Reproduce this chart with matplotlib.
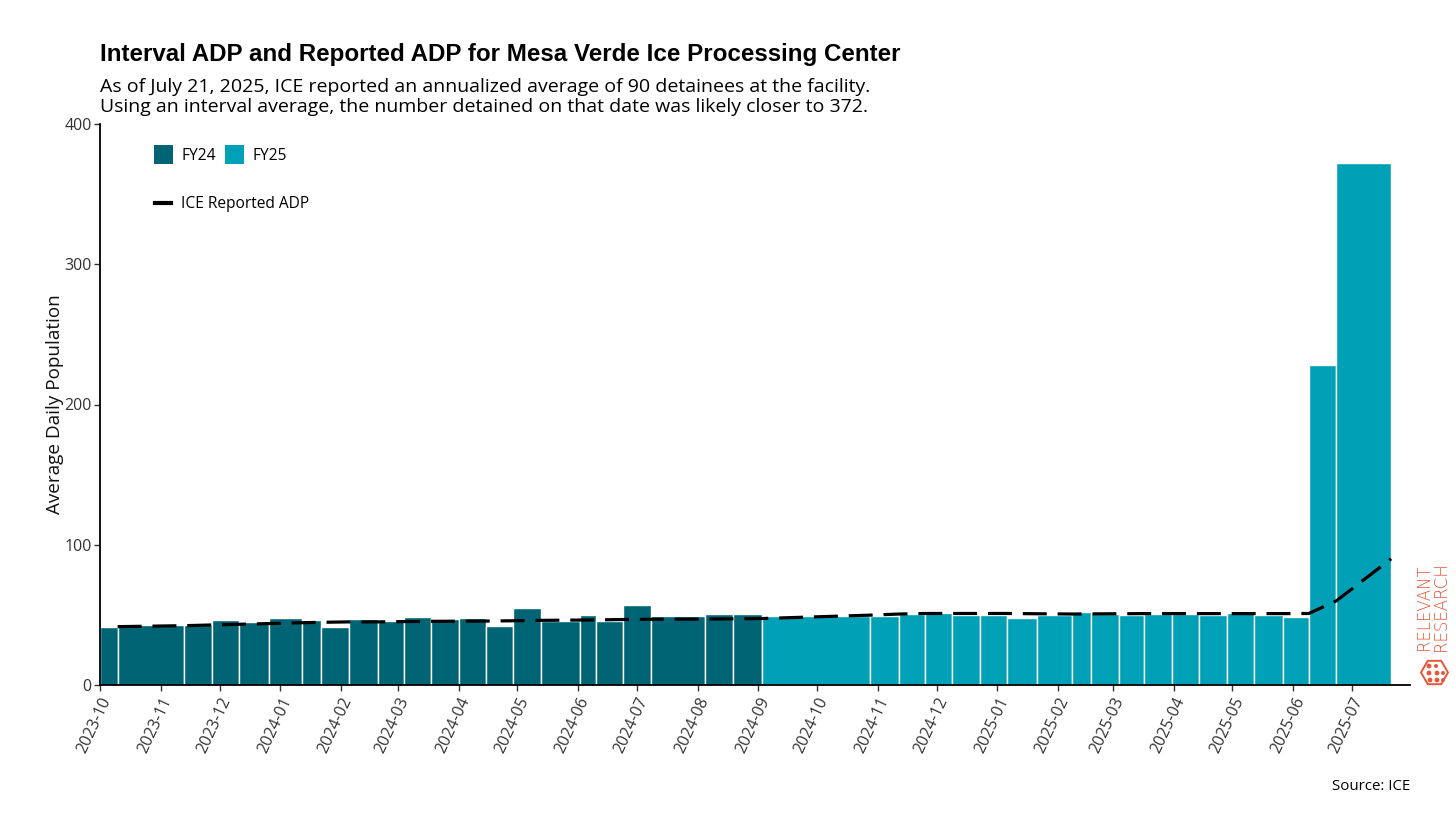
import matplotlib
matplotlib.use("Agg")
import matplotlib.pyplot as plt
import matplotlib.dates as mdates
from matplotlib.patches import Patch, RegularPolygon, Circle
from matplotlib.lines import Line2D
import matplotlib.transforms as mtransforms
import datetime as dt
import math

# ---------------- data ----------------
period_start = "2023-10-01"
report_dates = [
    "2023-10-10", "2023-11-13", "2023-11-27", "2023-12-11", "2023-12-26",
    "2024-01-12", "2024-01-22", "2024-02-05", "2024-02-20", "2024-03-04",
    "2024-03-18", "2024-04-01", "2024-04-15", "2024-04-29", "2024-05-13",
    "2024-06-02", "2024-06-10", "2024-06-24", "2024-07-08", "2024-08-05",
    "2024-08-19", "2024-09-03",
    "2024-10-28", "2024-11-12", "2024-11-25", "2024-12-09", "2024-12-23",
    "2025-01-06", "2025-01-21", "2025-02-08", "2025-02-18", "2025-03-04",
    "2025-03-17", "2025-03-31", "2025-04-14", "2025-04-28", "2025-05-12",
    "2025-05-27", "2025-06-09", "2025-06-23", "2025-07-21",
]
interval_adp = [
    41.1, 42.5, 43.0, 46.6, 44.9,
    47.8, 46.3, 41.6, 47.1, 45.6,
    48.5, 46.8, 47.5, 42.1, 55.1,
    45.4, 50.1, 45.9, 56.8, 49.2,
    50.9, 50.4,
    49.2, 49.4, 50.6, 51.1, 49.9,
    50.2, 47.8, 49.9, 52.0, 50.6,
    49.9, 50.9, 50.6, 50.1, 51.1,
    50.1, 48.5, 228.2, 372.2,
]
reported_adp = [
    41.6, 42.3, 42.8, 43.3, 43.8,
    44.4, 44.7, 45.0, 45.0, 45.2,
    45.4, 45.5, 45.6, 45.8, 46.1,
    46.3, 46.4, 46.7, 46.9, 47.0,
    47.2, 47.4,
    49.8, 50.6, 51.0, 51.0, 51.0,
    51.0, 50.8, 50.6, 50.7, 50.8,
    50.9, 50.9, 50.9, 50.9, 50.9,
    50.9, 51.0, 60.0, 90.0,
]
fy_labels = ["FY24", "FY25"]
fy25_start = "2024-10-01"
y_ticks = [0, 100, 200, 300, 400]

title = "Interval ADP and Reported ADP for Mesa Verde Ice Processing Center"
subtitle = ("As of July 21, 2025, ICE reported an annualized average of 90 detainees at the facility.\n"
            "Using an interval average, the number detained on that date was likely closer to 372.")
logo_words = ["RELEVANT", "RESEARCH"]

# ---------------- style ----------------
C_FY24 = "#006475"
C_FY25 = "#00A0B6"
LOGO = "#E8553A"
BODY_FONT = ["Open Sans", "DejaVu Sans"]

plt.rcParams["font.family"] = BODY_FONT

fig = plt.figure(figsize=(14.56, 8.19), dpi=100)
W, H = 1456, 819
ax = fig.add_axes([100 / W, 1 - 685 / H, (1410 - 100) / W, (685 - 124) / H])

ends = [mdates.date2num(dt.date.fromisoformat(d)) for d in report_dates]
starts = [mdates.date2num(dt.date.fromisoformat(period_start))] + ends[:-1]
widths = [e - s for s, e in zip(starts, ends)]
fy_cut = mdates.date2num(dt.date.fromisoformat(fy25_start))
colors = [C_FY24 if e < fy_cut else C_FY25 for e in ends]

ax.bar(starts, interval_adp, width=widths, align="edge", color=colors,
       edgecolor="white", linewidth=1.0, zorder=2)
ax.plot(ends, reported_adp, color="black", linewidth=2.3,
        dashes=(7.5, 3.4), zorder=3, dash_capstyle="butt")

x0 = starts[0]
ax.set_xlim(x0, x0 + 668.6)
ax.set_ylim(0, 400)
ax.set_yticks(y_ticks)
ax.xaxis.set_major_locator(mdates.MonthLocator())
ax.xaxis.set_major_formatter(mdates.DateFormatter("%Y-%m"))
for lbl in ax.get_xticklabels():
    lbl.set_rotation(65)
    lbl.set_ha("right")
    lbl.set_rotation_mode("anchor")
ax.tick_params(axis="both", labelsize=11.5, colors="#333333", length=4, width=1.0,
               labelcolor="#333333")
ax.tick_params(axis="x", pad=3)
ax.tick_params(axis="y", pad=2)
for s in ["top", "right"]:
    ax.spines[s].set_visible(False)
for s in ["left", "bottom"]:
    ax.spines[s].set_linewidth(1.3)
    ax.spines[s].set_color("black")
ax.set_ylabel("Average Daily Population", fontsize=13.6, color="#111111", labelpad=0)

# legends
h1 = [Patch(facecolor=C_FY24, edgecolor="none", label=fy_labels[0]),
      Patch(facecolor=C_FY25, edgecolor="none", label=fy_labels[1])]
leg1 = fig.legend(handles=h1, loc="upper left", bbox_to_anchor=(154 / W, 1 - 145 / H),
                  ncol=2, frameon=False, fontsize=11.2, handlelength=1.22, handleheight=1.5,
                  handletextpad=0.55, columnspacing=0.55, borderpad=0, borderaxespad=0)
h2 = [Line2D([0], [0], color="black", linewidth=3, label="ICE Reported ADP")]
leg2 = fig.legend(handles=h2, loc="upper left", bbox_to_anchor=(155 / W, 1 - 196 / H),
                  frameon=False, fontsize=11.2, handlelength=1.05,
                  handletextpad=0.6, borderpad=0, borderaxespad=0)

# titles
fig.text(100 / W, 1 - 55 / H, title, fontsize=17.4, fontweight="bold",
         family=["Liberation Sans", "DejaVu Sans"], va="center", ha="left", color="black")
fig.text(100 / W, 1 - 97 / H, subtitle, fontsize=14.0, va="center", ha="left",
         color="black", linespacing=1.15)
fig.text(1410 / W, 1 - 787 / H, "Source: ICE", fontsize=10.8, ha="right", va="center",
         color="black")

# logo
for word, xc in zip(logo_words, (1424, 1441)):
    fig.text(xc / W, 1 - 607 / H, word, rotation=90, fontsize=12.0,
             family=["DejaVu Sans"], fontweight="light",
             color=LOGO, ha="center", va="center")
px = mtransforms.Affine2D()  # pixel coordinates from figure origin
hex_c = (1434.5, H - 672.5)
fig.patches.append(RegularPolygon(hex_c, numVertices=6, radius=13.5, orientation=math.pi / 6,
                                  transform=px, facecolor="none", edgecolor=LOGO, linewidth=1.4))
for (cx, cy, r) in [(1429, 666, 2.4), (1436, 666, 2.0), (1429, 673, 2.4), (1437, 673, 2.4),
                    (1443, 673, 2.0), (1430, 680, 2.4), (1437, 680, 2.4), (1443, 680, 2.0)]:
    fig.patches.append(Circle((cx, H - cy), r, transform=px, facecolor=LOGO, edgecolor="none"))

fig.savefig("out.png", dpi=100, facecolor="white")
